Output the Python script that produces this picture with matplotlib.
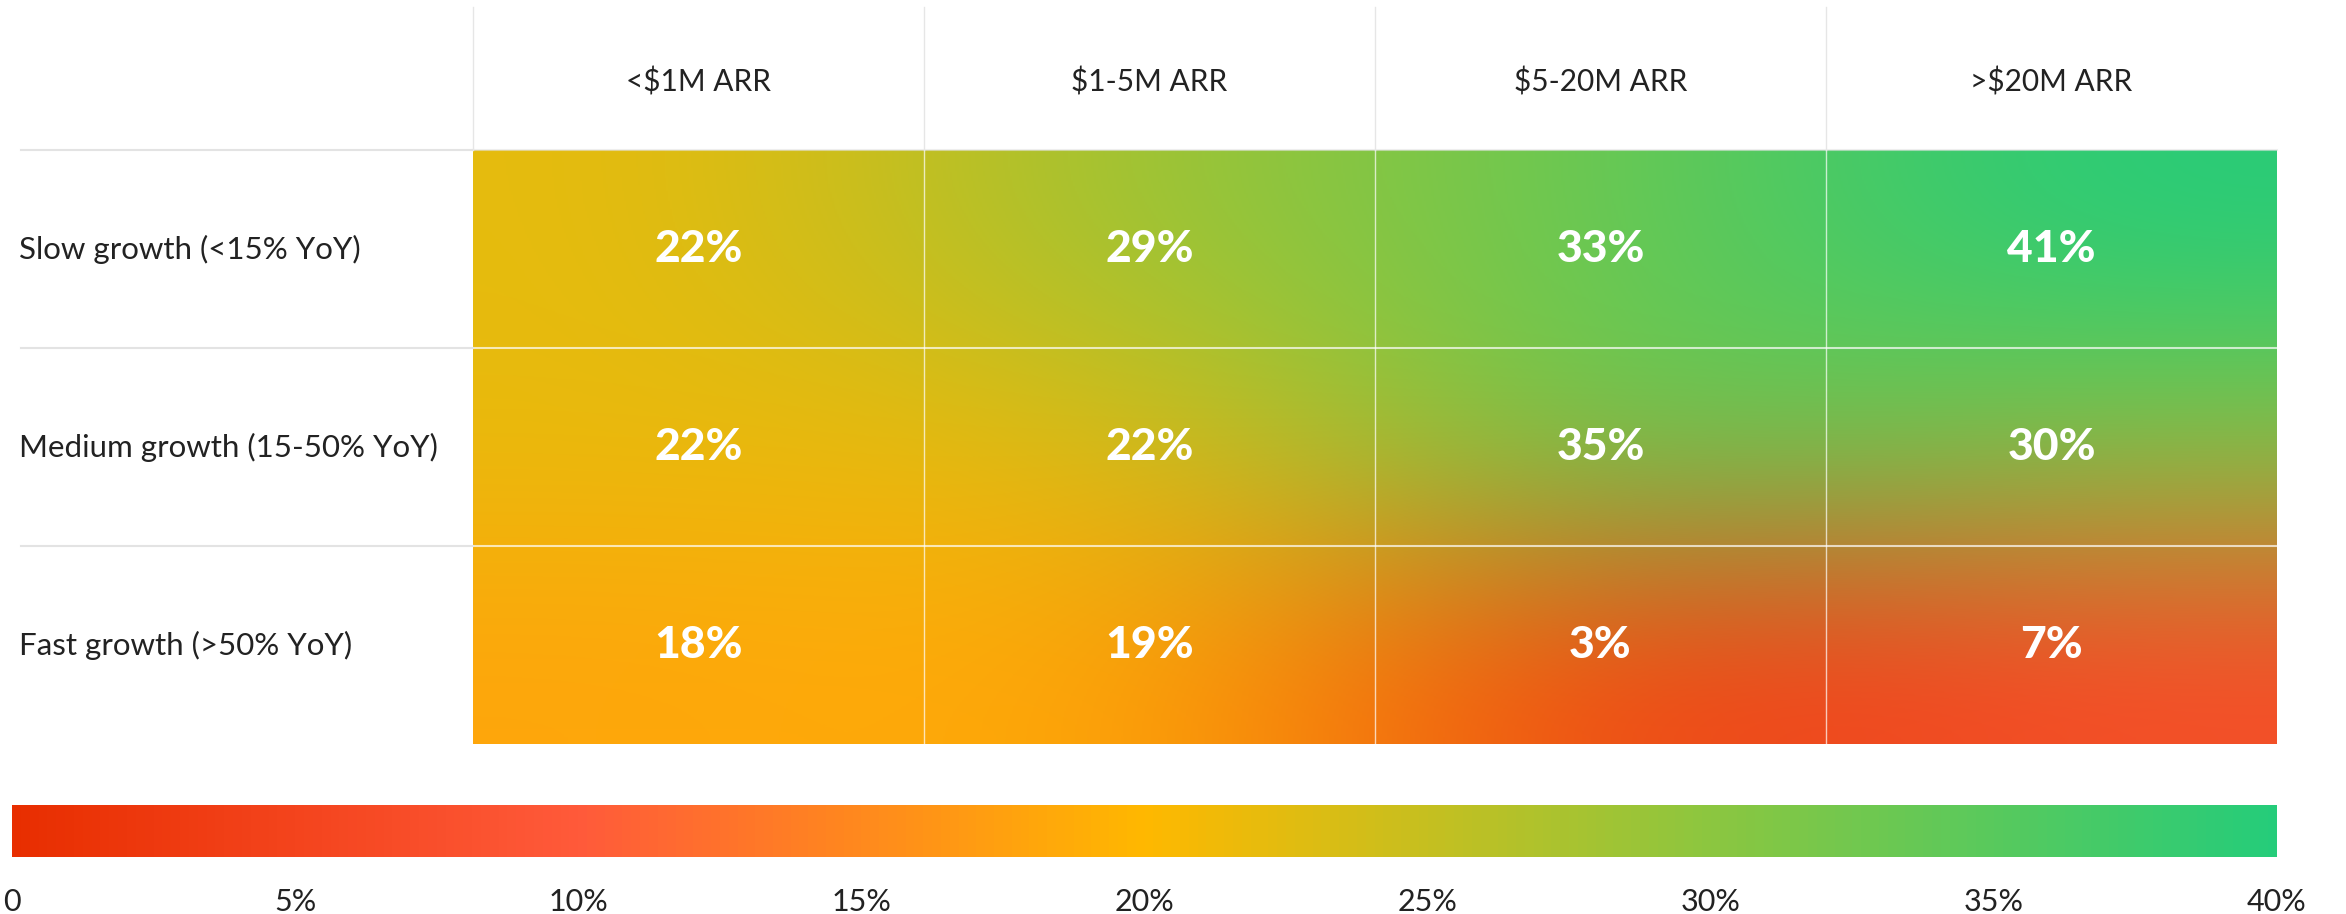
import matplotlib
matplotlib.use("Agg")
import matplotlib.pyplot as plt
from matplotlib.colors import LinearSegmentedColormap, Normalize
from matplotlib.cm import ScalarMappable
import numpy as np

# data
columns = ["<$1M ARR", "$1-5M ARR", "$5-20M ARR", ">$20M ARR"]
rows = ["Slow growth (<15% YoY)", "Medium growth (15-50% YoY)", "Fast growth (>50% YoY)"]
slow = [22, 29, 33, 41]
medium = [22, 22, 35, 30]
fast = [18, 19, 3, 7]
cbar_ticks = [0, 5, 10, 15, 20, 25, 30, 35, 40]

values = np.array([slow, medium, fast], dtype=float)

plt.rcParams['font.family'] = ['Lato', 'DejaVu Sans']

cmap = LinearSegmentedColormap.from_list(
    "growth", [(0.0, "#e82e00"), (0.25, "#ff5a3a"), (0.5, "#ffb800"),
               (0.75, "#8cc63f"), (1.0, "#25cc7a")])
norm = Normalize(0, 40)

W, H = 2346, 914
fig = plt.figure(figsize=(W / 100, H / 100), dpi=100)

# heatmap axes (pixel layout)
x0, x1, y0, y1 = 473, 2277, 150, 744
ax = fig.add_axes([x0 / W, 1 - y1 / H, (x1 - x0) / W, (y1 - y0) / H])
rgb = cmap(norm(values))[:, :, :3]
ax.imshow(rgb, extent=(0, 4, 3, 0), interpolation='bicubic', aspect='auto')
ax.set_xlim(0, 4)
ax.set_ylim(3, 0)
ax.axis('off')

colw = (x1 - x0) / 4
rowh = (y1 - y0) / 3
left = -(x0 - 21) / colw
head = -(y0 - 7) / rowh

# grid lines
for j in range(1, 4):
    ax.plot([j, j], [0, 3], color='white', lw=1, alpha=0.7)
for i in range(1, 3):
    ax.plot([0, 4], [i, i], color='white', lw=1.5, alpha=0.7)
for i in range(0, 3):
    ax.plot([left, 0], [i, i], color='#e3e3e3', lw=1.5, clip_on=False)
ax.plot([0, 4], [0, 0], color='#e3e3e3', lw=1.5, alpha=0.6, clip_on=False)
for j in range(0, 4):
    ax.plot([j, j], [head, 0], color='#e6e6e6', lw=1, clip_on=False)

# header and row labels
for j, c in enumerate(columns):
    ax.text(j + 0.5, head / 2 + 0.02, c, ha='center', va='center',
            fontsize=21.5, color='#222222', clip_on=False)
for i, r in enumerate(rows):
    ax.text(left - 0.005, i + 0.5, r, ha='left', va='center',
            fontsize=22.5, color='#222222', clip_on=False)

# cell values
for i in range(3):
    for j in range(4):
        ax.text(j + 0.5, i + 0.5, f"{int(values[i, j])}%", ha='center', va='center',
                fontsize=32, fontweight='black', color='white')

# colorbar
cax = fig.add_axes([12 / W, 1 - 857 / H, (2277 - 12) / W, 52 / H])
sm = ScalarMappable(norm=norm, cmap=cmap)
cb = fig.colorbar(sm, cax=cax, orientation='horizontal', ticks=cbar_ticks)
cb.outline.set_visible(False)
cb.ax.set_xticklabels(["0" if t == 0 else f"{t}%" for t in cbar_ticks])
cb.ax.tick_params(length=0, pad=22, labelsize=22, labelcolor='#222222')

fig.savefig("out.png", dpi=100, facecolor='white')
